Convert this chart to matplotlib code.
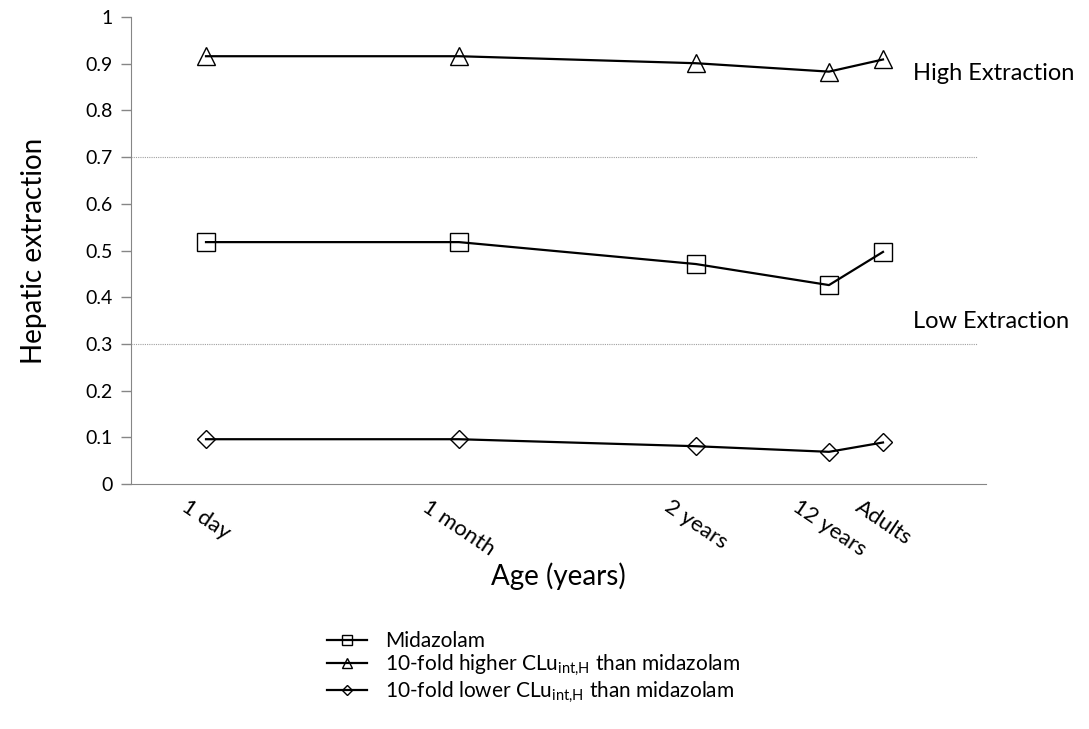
import matplotlib.pyplot as plt

plt.rcParams['font.family'] = ['Lato', 'DejaVu Sans']
plt.rcParams['mathtext.fontset'] = 'custom'
plt.rcParams['mathtext.rm'] = 'Lato'

ages = ['1 day', '1 month', '2 years', '12 years', 'Adults']
age_pos = [75, 328, 565, 698, 752]
midazolam = [0.518, 0.518, 0.471, 0.426, 0.497]
higher = [0.916, 0.916, 0.901, 0.883, 0.909]
lower = [0.096, 0.096, 0.081, 0.069, 0.089]

fig = plt.figure(figsize=(10.89, 7.29), dpi=100)
ax = fig.add_axes([0.1203, 0.336, 0.7851, 0.6407])

line_kw = dict(color='black', lw=1.6, markerfacecolor='none', markeredgecolor='black', markeredgewidth=1.0)
ax.plot(age_pos, midazolam, marker='s', ms=13, label='Midazolam', **line_kw)
ax.plot(age_pos, higher, marker='^', ms=13,
        label=r'10-fold higher CLu$_{\mathregular{int{,}H}}$ than midazolam', **line_kw)
ax.plot(age_pos, lower, marker='D', ms=9,
        label=r'10-fold lower CLu$_{\mathregular{int{,}H}}$ than midazolam', **line_kw)

for yv in [0.3, 0.7]:
    ax.axhline(yv, xmax=0.99, color='#a0a0a0', lw=0.8, ls=(0, (1, 1)), zorder=0)

ax.set_xlim(0, 855)
ax.set_ylim(0, 1)
ax.set_yticks([i / 10 for i in range(11)])
ax.set_yticklabels(['0'] + ['%.1f' % (i / 10) for i in range(1, 10)] + ['1'], fontsize=14)
ax.set_xticks(age_pos)
ax.set_xticklabels(ages, rotation=-34, ha='center', va='top', fontsize=16)
ax.tick_params(axis='x', length=0, pad=9)
ax.tick_params(axis='y', length=7, color='#868686', width=1, pad=6)

for s in ['top', 'right']:
    ax.spines[s].set_visible(False)
for s in ['left', 'bottom']:
    ax.spines[s].set_color('#868686')

ax.set_ylabel('Hepatic extraction', fontsize=20, labelpad=28)
ax.set_xlabel('Age (years)', fontsize=20, labelpad=2)

ax.text(0.915, 0.88, 'High Extraction', transform=ax.transAxes, fontsize=17, va='center', ha='left')
ax.text(0.915, 0.347, 'Low Extraction', transform=ax.transAxes, fontsize=17, va='center', ha='left')

fig.legend(loc='upper left', bbox_to_anchor=(0.283, 0.16), frameon=False, fontsize=15,
           handlelength=1.9, handletextpad=0.9, labelspacing=0.05, markerscale=0.6)

fig.savefig('out.png', dpi=100)
